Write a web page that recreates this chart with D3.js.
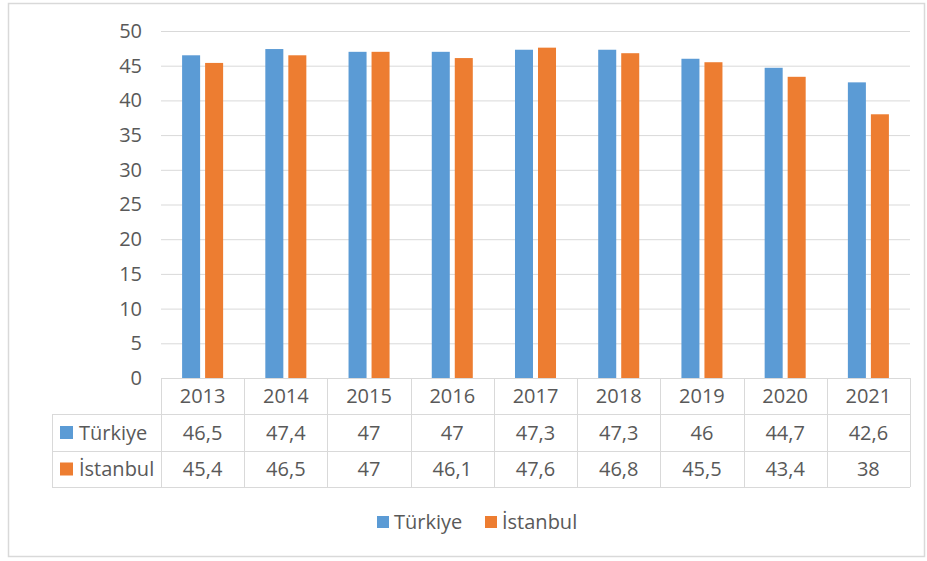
<!DOCTYPE html>
<html><head><meta charset="utf-8">
<script src="https://cdn.jsdelivr.net/npm/d3@7"></script>
<style>body{margin:0;background:#fff}text{font-family:"Open Sans","Liberation Sans",sans-serif;fill:#595959}</style>
</head><body><svg id="c" width="927" height="561"></svg>
<script>
const years = ["2013","2014","2015","2016","2017","2018","2019","2020","2021"];
const turkiye = [46.5,47.4,47,47,47.3,47.3,46,44.7,42.6];
const istanbul = [45.4,46.5,47,46.1,47.6,46.8,45.5,43.4,38];
const yTicks = [0,5,10,15,20,25,30,35,40,45,50];
const seriesNames = ["Türkiye","İstanbul"];
const colors = ["#5B9BD5","#ED7D31"];
const series = [turkiye, istanbul];

const svg = d3.select("#c");
const fs = 20;
svg.append("rect").attr("x",8.5).attr("y",3.5).attr("width",916).attr("height",553)
  .attr("fill","#fff").attr("stroke","#d9d9d9").attr("stroke-width",1.5);

const x0 = d3.scaleBand().domain(years).range([161,910]);
const y = d3.scaleLinear().domain([0,50]).range([378,31]);
const x1 = d3.scaleBand().domain([0,1]).range([0,x0.bandwidth()]).paddingInner(0.217).paddingOuter(0.917);

// gridlines
svg.append("g").selectAll("line").data(yTicks.filter(d=>d>0)).join("line")
  .attr("x1",161).attr("x2",910).attr("y1",d=>y(d)+0.5).attr("y2",d=>y(d)+0.5)
  .attr("stroke","#d9d9d9").attr("stroke-width",1);

const yAxis = d3.axisLeft(y).tickValues(yTicks).tickSize(0).tickPadding(0).tickFormat(d3.format("d"));
const ga = svg.append("g").attr("transform","translate(142,0)").call(yAxis);
ga.select(".domain").remove();
ga.selectAll("text").style("font-size",fs+"px").attr("fill","#595959").attr("font-family","Open Sans");

// bars
series.forEach((s,si)=>{
  svg.append("g").selectAll("rect").data(s).join("rect")
    .attr("x",(d,i)=>x0(years[i])+x1(si))
    .attr("width",x1.bandwidth())
    .attr("y",d=>y(d)).attr("height",d=>y(0)-y(d))
    .attr("fill",colors[si]);
});

// table
const rowY = [378,414,451,487];
const tbl = svg.append("g").attr("stroke","#d9d9d9").attr("stroke-width",1);
tbl.append("line").attr("x1",161).attr("x2",910).attr("y1",rowY[0]+0.5).attr("y2",rowY[0]+0.5);
[1,2,3].forEach(r=>tbl.append("line").attr("x1",52).attr("x2",910).attr("y1",rowY[r]+0.5).attr("y2",rowY[r]+0.5));
years.forEach(yr=>tbl.append("line").attr("x1",Math.round(x0(yr))+0.5).attr("x2",Math.round(x0(yr))+0.5).attr("y1",rowY[0]).attr("y2",rowY[3]));
tbl.append("line").attr("x1",910.5).attr("x2",910.5).attr("y1",rowY[0]).attr("y2",rowY[3]);
tbl.append("line").attr("x1",52.5).attr("x2",52.5).attr("y1",rowY[1]).attr("y2",rowY[3]);

const fmt = v => String(v).replace(".",",");
svg.append("g").selectAll("text").data(years).join("text")
  .attr("x",d=>x0(d)+x0.bandwidth()/2).attr("y",(rowY[0]+rowY[1])/2).attr("dy","0.35em")
  .attr("text-anchor","middle").style("font-size",fs+"px").text(d=>d);
series.forEach((s,si)=>{
  const cy = (rowY[si+1]+rowY[si+2])/2;
  svg.append("g").selectAll("text").data(s).join("text")
    .attr("x",(d,i)=>x0(years[i])+x0.bandwidth()/2).attr("y",cy).attr("dy","0.35em")
    .attr("text-anchor","middle").style("font-size",fs+"px").text(fmt);
  svg.append("rect").attr("x",60).attr("y",cy-6.5).attr("width",13).attr("height",13).attr("fill",colors[si]);
  svg.append("text").attr("x",79).attr("y",cy).attr("dy","0.35em").style("font-size",fs+"px").text(seriesNames[si]);
});

// legend
const legX = [377,485];
seriesNames.forEach((n,i)=>{
  svg.append("rect").attr("x",legX[i]).attr("y",516).attr("width",12).attr("height",12).attr("fill",colors[i]);
  svg.append("text").attr("x",legX[i]+17).attr("y",522).attr("dy","0.35em").style("font-size",fs+"px").text(n);
});
</script></body></html>
